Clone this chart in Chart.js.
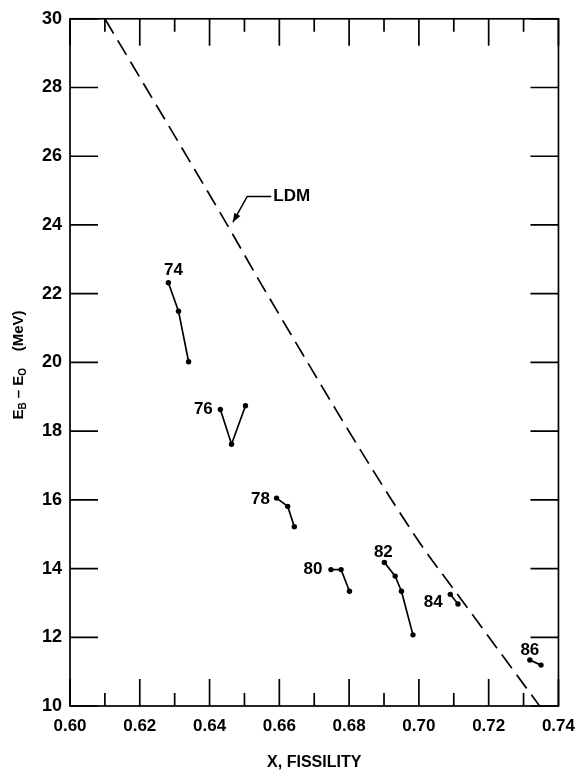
<!DOCTYPE html>
<html lang="en">
<head>
<meta charset="UTF-8">
<title>Fissility</title>
<script src="https://cdn.jsdelivr.net/npm/chart.js@4.4.3/dist/chart.umd.min.js"></script>
<style>
  body { margin: 0; background: #fff; }
  #wrap { width: 585px; height: 770px; }
</style>
</head>
<body>
<div id="wrap"><canvas id="mychart" width="585" height="770"></canvas></div>
<script>
// group names (Z) and their measured points
const groupNames = ['74', '76', '78', '80', '82', '84', '86'];
const x74 = [0.6282, 0.6311, 0.6340];
const y74 = [22.32, 21.49, 20.02];
const x76 = [0.6431, 0.6463, 0.6503];
const y76 = [18.63, 17.62, 18.74];
const x78 = [0.6592, 0.6624, 0.6643];
const y78 = [16.05, 15.81, 15.22];
const x80 = [0.6748, 0.6777, 0.6801];
const y80 = [13.97, 13.97, 13.34];
const x82 = [0.6901, 0.6932, 0.6950, 0.6983];
const y82 = [14.18, 13.78, 13.34, 12.07];
const x84 = [0.7090, 0.7112];
const y84 = [13.25, 12.97];
const x86 = [0.7318, 0.7350];
const y86 = [11.34, 11.19];

// liquid drop model curve
const ldmX = [0.6100, 0.6452, 0.6559, 0.6991, 0.7123, 0.7346];
const ldmY = [30, 23.98, 22.09, 14.92, 13.08, 10];

const xTicks = [0.60, 0.62, 0.64, 0.66, 0.68, 0.70, 0.72, 0.74];
const yTicks = [10, 12, 14, 16, 18, 20, 22, 24, 26, 28, 30];

const groupX = [x74, x76, x78, x80, x82, x84, x86];
const groupY = [y74, y76, y78, y80, y82, y84, y86];

// where each group's number sits relative to its first point (px)
const labelOffset = {
    '74': [5, -12], '76': [-17, 0], '78': [-16, 1], '80': [-18, 0],
    '82': [-1, -10], '84': [-17, 8], '86': [0, -10]
};

const FONT = 'Liberation Sans';

function pts(xs, ys) {
    return xs.map((x, i) => ({ x: x, y: ys[i] }));
}

const datasets = groupNames.map((name, i) => ({
    label: name,
    data: pts(groupX[i], groupY[i]),
    showLine: true,
    borderColor: '#000',
    backgroundColor: '#000',
    borderWidth: 1.7,
    pointRadius: 2.7,
    pointBorderWidth: 0
}));

datasets.push({
    label: 'LDM',
    data: pts(ldmX, ldmY),
    showLine: true,
    borderColor: '#000',
    borderWidth: 1.7,
    borderDash: [17, 8],
    pointRadius: 0,
    cubicInterpolationMode: 'monotone'
});

// frame + inward ticks on all four sides
const frameTicks = {
    id: 'frameTicks',
    afterDraw(chart) {
        const ctx = chart.ctx;
        const { left, right, top, bottom } = chart.chartArea;
        const xs = chart.scales.x, ys = chart.scales.y;
        ctx.save();
        ctx.strokeStyle = '#000';
        ctx.lineWidth = 1.7;
        ctx.strokeRect(left, top, right - left, bottom - top);
        ctx.beginPath();
        xTicks.forEach((v, i) => {
            const px = xs.getPixelForValue(v);
            ctx.moveTo(px, bottom); ctx.lineTo(px, bottom - 27);
            ctx.moveTo(px, top); ctx.lineTo(px, top + 27);
            if (i < xTicks.length - 1) {
                const mx = xs.getPixelForValue((v + xTicks[i + 1]) / 2);
                ctx.moveTo(mx, bottom); ctx.lineTo(mx, bottom - 13);
                ctx.moveTo(mx, top); ctx.lineTo(mx, top + 13);
            }
        });
        yTicks.forEach(v => {
            const py = ys.getPixelForValue(v);
            ctx.moveTo(left, py); ctx.lineTo(left + 28, py);
            ctx.moveTo(right, py); ctx.lineTo(right - 28, py);
        });
        ctx.stroke();
        ctx.restore();
    }
};

// group numbers, LDM pointer and the y title
const annotations = {
    id: 'annotations',
    afterDraw(chart) {
        const ctx = chart.ctx;
        const xs = chart.scales.x, ys = chart.scales.y;
        ctx.save();
        ctx.fillStyle = '#000';
        ctx.strokeStyle = '#000';
        ctx.font = 'bold 17px ' + FONT;
        ctx.textAlign = 'center';
        ctx.textBaseline = 'middle';
        groupNames.forEach((name, i) => {
            const px = xs.getPixelForValue(groupX[i][0]);
            const py = ys.getPixelForValue(groupY[i][0]);
            const off = labelOffset[name];
            ctx.fillText(name, px + off[0], py + off[1]);
        });

        // LDM leader with arrow
        const tip = [xs.getPixelForValue(0.6467), ys.getPixelForValue(24.08)];
        const elbow = [xs.getPixelForValue(0.6508), ys.getPixelForValue(24.83)];
        const end = [xs.getPixelForValue(0.6577), ys.getPixelForValue(24.83)];
        ctx.lineWidth = 1.5;
        ctx.beginPath();
        ctx.moveTo(end[0], end[1]);
        ctx.lineTo(elbow[0], elbow[1]);
        ctx.lineTo(tip[0], tip[1]);
        ctx.stroke();
        const ang = Math.atan2(tip[1] - elbow[1], tip[0] - elbow[0]);
        ctx.beginPath();
        ctx.moveTo(tip[0], tip[1]);
        ctx.lineTo(tip[0] - 9 * Math.cos(ang) + 3.5 * Math.sin(ang), tip[1] - 9 * Math.sin(ang) - 3.5 * Math.cos(ang));
        ctx.lineTo(tip[0] - 9 * Math.cos(ang) - 3.5 * Math.sin(ang), tip[1] - 9 * Math.sin(ang) + 3.5 * Math.cos(ang));
        ctx.closePath();
        ctx.fill();
        ctx.textAlign = 'left';
        ctx.fillText('LDM', end[0] + 2, end[1]);

        // y title: E_B - E_0 (MeV), rotated
        ctx.translate(19, 365);
        ctx.rotate(-Math.PI / 2);
        const big = 'bold 15px ' + FONT, small = 'bold 10px ' + FONT;
        const parts = [
            ['E', big, 0], ['B', small, 4], [' \u2013 ', big, 0],
            ['E', big, 0], ['O', small, 4], ['    (MeV)', big, 0]
        ];
        let w = 0;
        parts.forEach(p => { ctx.font = p[1]; w += ctx.measureText(p[0]).width; });
        let cx = -w / 2;
        ctx.textAlign = 'left';
        parts.forEach(p => {
            ctx.font = p[1];
            ctx.fillText(p[0], cx, p[2]);
            cx += ctx.measureText(p[0]).width;
        });
        ctx.restore();
    }
};

const config = {
    type: 'scatter',
    data: { datasets: datasets },
    options: {
        responsive: false,
        animation: false,
        layout: { padding: { top: 18, right: 24, left: 0, bottom: 0 } },
        plugins: {
            legend: { display: false },
            tooltip: { enabled: false }
        },
        scales: {
            x: {
                type: 'linear',
                min: 0.60,
                max: 0.74,
                afterBuildTicks: s => { s.ticks = xTicks.map(v => ({ value: v })); },
                afterFit: s => { s.height = 64; },
                grid: { display: false, drawTicks: false },
                border: { display: false },
                ticks: {
                    color: '#000',
                    padding: 10,
                    maxRotation: 0,
                    font: { family: FONT, size: 17, weight: 'bold' },
                    callback: v => v.toFixed(2)
                },
                title: {
                    display: true,
                    text: 'X, FISSILITY',
                    color: '#000',
                    font: { family: FONT, size: 16, weight: 'bold' },
                    padding: { top: 0, bottom: -2 }
                }
            },
            y: {
                type: 'linear',
                min: 10,
                max: 30,
                afterBuildTicks: s => { s.ticks = yTicks.map(v => ({ value: v })); },
                afterFit: s => { s.width = 70; },
                grid: { display: false, drawTicks: false },
                border: { display: false },
                ticks: {
                    color: '#000',
                    padding: 8,
                    font: { family: FONT, size: 18, weight: 'bold' }
                }
            }
        }
    },
    plugins: [frameTicks, annotations]
};

var mychart = new Chart(document.getElementById('mychart'), config);
</script>
</body>
</html>
